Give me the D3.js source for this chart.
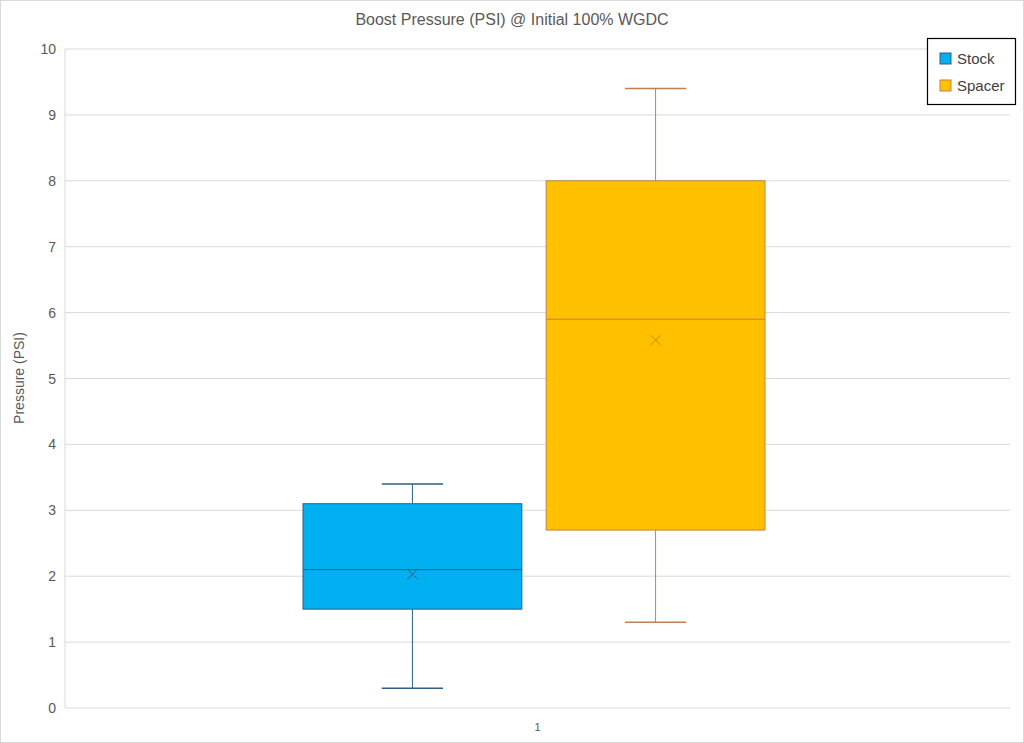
<!DOCTYPE html>
<html><head><meta charset="utf-8">
<script src="https://cdn.jsdelivr.net/npm/d3@7"></script>
<style>body{margin:0;background:#fff}text{font-family:"Liberation Sans",Arial,sans-serif}</style>
</head><body>
<svg id="c" width="1024" height="743"></svg>
<script>
const categories = ["1"];
const seriesNames = ["Stock", "Spacer"];
const mins = [0.3, 1.3];
const q1s = [1.5, 2.7];
const medians = [2.1, 5.9];
const q3s = [3.1, 8.0];
const maxs = [3.4, 9.4];
const means = [2.03, 5.58];
const yTicks = [0,1,2,3,4,5,6,7,8,9,10];
const fills = ["#00B0F0", "#FFC000"];
const strokes = ["#2F5F7F", "#C0804E"];

const svg = d3.select("#c");
svg.append("rect").attr("x",0.5).attr("y",0.5).attr("width",1023).attr("height",742).attr("fill","#fff").attr("stroke","#d9d9d9");
const L=65,R=1010,T=49,B=708;
const y = d3.scaleLinear().domain([0,10]).range([B,T]);
const x = d3.scaleBand().domain(categories).range([L,R]);
const xs = d3.scaleBand().domain(seriesNames).range([x("1")+238, x("1")+x.bandwidth()-245]).paddingInner(0.1);

svg.append("g").selectAll("line").data(yTicks).join("line")
 .attr("x1",L).attr("x2",R).attr("y1",d=>y(d)).attr("y2",d=>y(d)).attr("stroke","#d9d9d9");
svg.append("line").attr("x1",L).attr("x2",L).attr("y1",T).attr("y2",B).attr("stroke","#d9d9d9");
svg.append("g").selectAll("text").data(yTicks).join("text")
 .attr("x",L-9).attr("y",d=>y(d)+5).attr("text-anchor","end").attr("font-size",14).attr("fill","#595959").text(d=>d);
svg.append("text").attr("x",x("1")+x.bandwidth()/2).attr("y",731).attr("text-anchor","middle").attr("font-size",11).attr("fill","#595959").text("1");
svg.append("text").attr("x",512).attr("y",25).attr("text-anchor","middle").attr("font-size",16).attr("fill","#595959").text("Boost Pressure (PSI) @ Initial 100% WGDC");
svg.append("text").attr("transform","translate(24,378) rotate(-90)").attr("text-anchor","middle").attr("font-size",14).attr("fill","#595959").text("Pressure (PSI)");

seriesNames.forEach((s,i)=>{
  const x0=xs(s), w=xs.bandwidth(), cx=x0+w/2, g=svg.append("g");
  const st=strokes[i];
  g.append("line").attr("x1",cx).attr("x2",cx).attr("y1",y(maxs[i])).attr("y2",y(q3s[i])).attr("stroke",st);
  g.append("line").attr("x1",cx).attr("x2",cx).attr("y1",y(q1s[i])).attr("y2",y(mins[i])).attr("stroke",st);
  [mins[i],maxs[i]].forEach(v=>g.append("line").attr("x1",cx-w*0.14).attr("x2",cx+w*0.14).attr("y1",y(v)).attr("y2",y(v)).attr("stroke",st).attr("stroke-width",1.5));
  g.append("rect").attr("x",x0).attr("width",w).attr("y",y(q3s[i])).attr("height",y(q1s[i])-y(q3s[i])).attr("fill",fills[i]).attr("stroke",st);
  g.append("line").attr("x1",x0).attr("x2",x0+w).attr("y1",y(medians[i])).attr("y2",y(medians[i])).attr("stroke",st);
  const my=y(means[i]);
  g.append("path").attr("d",`M${cx-5},${my-5}L${cx+5},${my+5}M${cx-5},${my+5}L${cx+5},${my-5}`).attr("stroke",st);
});

const lg=svg.append("g");
lg.append("rect").attr("x",927.5).attr("y",38.5).attr("width",88).attr("height",66).attr("fill","#fff").attr("stroke","#000").attr("stroke-width",1.2);
seriesNames.forEach((s,i)=>{
  const yy=59+i*27;
  lg.append("rect").attr("x",940).attr("y",yy-6).attr("width",11).attr("height",11).attr("fill",fills[i]).attr("stroke",strokes[i]);
  lg.append("text").attr("x",957).attr("y",yy+5).attr("font-size",15).attr("fill","#404040").text(s);
});
</script>
</body></html>
